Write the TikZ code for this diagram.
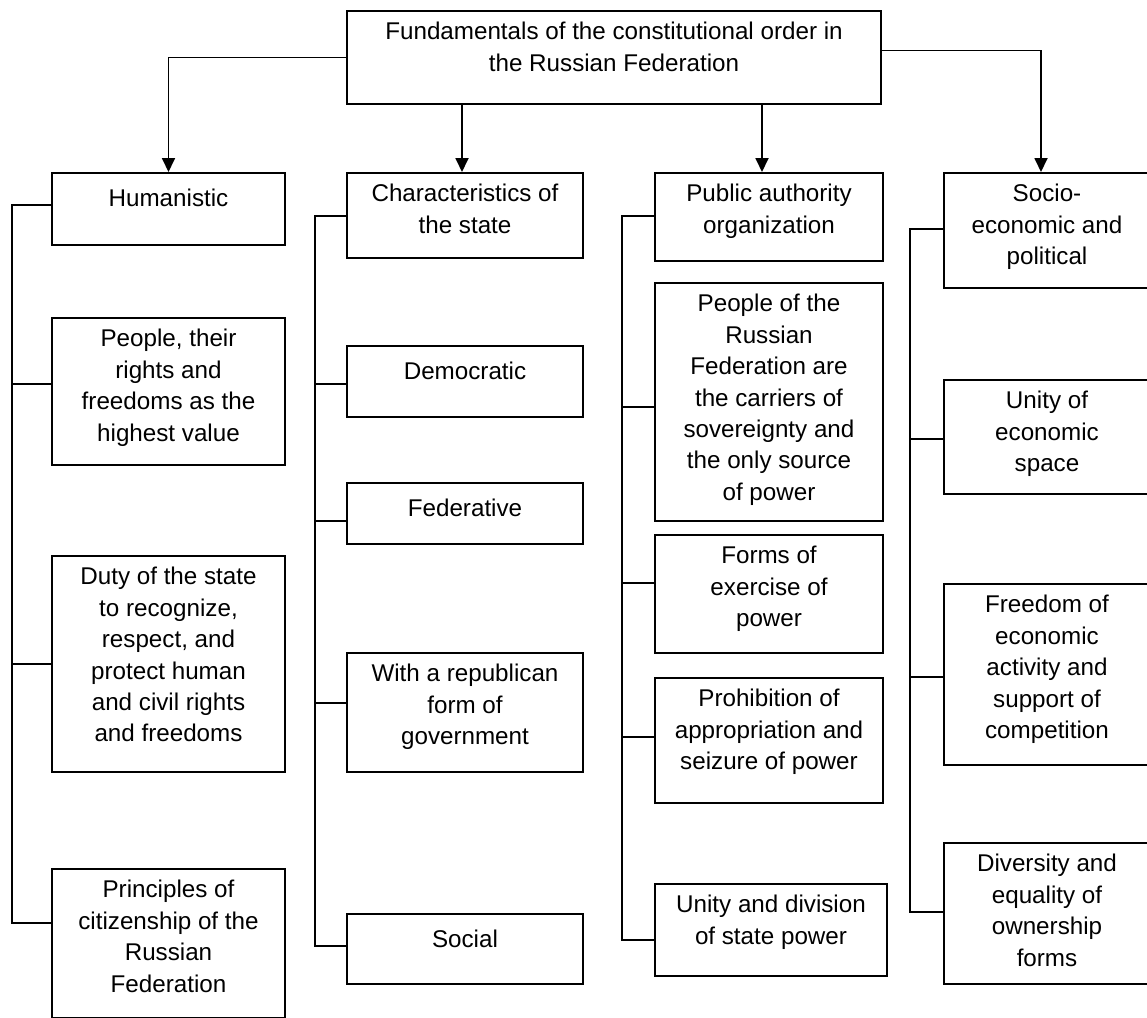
\documentclass[tikz,border=0pt]{standalone}
\usepackage{fontspec}
\setmainfont{Liberation Sans}
\usetikzlibrary{arrows.meta}
\tikzset{box/.style = {draw, line width = 0.9pt, anchor = north, inner sep = 0}}
\tikzset{txt/.style = {anchor = north, align = center, inner sep = 0, yshift = -6pt, font = \fontsize{12.1}{15.7}\selectfont, execute at begin node = \strut}}
\tikzset{link/.style = {line width = 0.9pt}}
\tikzset{arr/.style = {line width = 0.9pt, -{Triangle[width = 6.5pt, length = 7pt]}}}
\tikzset{col1/.style = {minimum width = 116.5pt}}
\tikzset{col2/.style = {minimum width = 118pt}}
\tikzset{col3/.style = {minimum width = 114pt}}
\tikzset{col4/.style = {minimum width = 103pt}}

\begin{document}
\begin{tikzpicture}[x = 0.5pt, y = -0.5pt]
    \useasboundingbox (0, 0) rectangle (1147, 1018);

    % root
    \node [box, minimum width = 267pt, minimum height = 46.5pt] (top) at (614, 10) {};
    \node [txt] (top-t) at (top.north) {Fundamentals of the constitutional order in\\the Russian Federation};

    % first column
    \node [box, col1, minimum height = 36pt] (hum) at (168.5, 172) {};
    \node [txt] (hum-t) at (hum.north) {Humanistic};
    \node [box, col1, minimum height = 73.5pt] (c1b) at (168.5, 317) {};
    \node [txt] (c1b-t) at (c1b.north) {People, their\\rights and\\freedoms as the\\highest value};
    \node [box, col1, minimum height = 108pt] (c1c) at (168.5, 555) {};
    \node [txt] (c1c-t) at (c1c.north) {Duty of the state\\to recognize,\\respect, and\\protect human\\and civil rights\\and freedoms};
    \node [box, col1, minimum height = 74.5pt] (c1d) at (168.5, 868) {};
    \node [txt] (c1d-t) at (c1d.north) {Principles of\\citizenship of the\\Russian\\Federation};

    % second column
    \node [box, col2, minimum height = 42.5pt] (c2a) at (465, 172) {};
    \node [txt] (c2a-t) at (c2a.north) {Characteristics of\\the state};
    \node [box, col2, minimum height = 35.5pt] (dem) at (465, 345) {};
    \node [txt] (dem-t) at (dem.north) {Democratic};
    \node [box, col2, minimum height = 30.5pt] (fed) at (465, 482) {};
    \node [txt] (fed-t) at (fed.north) {Federative};
    \node [box, col2, minimum height = 59.5pt] (rep) at (465, 652) {};
    \node [txt] (rep-t) at (rep.north) {With a republican\\form of\\government};
    \node [box, col2, minimum height = 35pt] (soc) at (465, 913) {};
    \node [txt] (soc-t) at (soc.north) {Social};

    % third column
    \node [box, col3, minimum height = 44pt] (c3a) at (769, 172) {};
    \node [txt] (c3a-t) at (c3a.north) {Public authority\\organization};
    \node [box, col3, minimum height = 119pt] (c3b) at (769, 282) {};
    \node [txt] (c3b-t) at (c3b.north) {People of the\\Russian\\Federation are\\the carriers of\\sovereignty and\\the only source\\of power};
    \node [box, col3, minimum height = 59pt] (c3c) at (769, 534) {};
    \node [txt] (c3c-t) at (c3c.north) {Forms of\\exercise of\\power};
    \node [box, col3, minimum height = 62.5pt] (c3d) at (769, 677) {};
    \node [txt] (c3d-t) at (c3d.north) {Prohibition of\\appropriation and\\seizure of power};
    \node [box, minimum width = 116pt, minimum height = 46pt] (c3e) at (771, 883) {};
    \node [txt] (c3e-t) at (c3e.north) {Unity and division\\of state power};

    % fourth column
    \node [box, col4, minimum height = 57.5pt] (c4a) at (1047, 172) {};
    \node [txt] (c4a-t) at (c4a.north) {Socio-\\economic and\\political};
    \node [box, col4, minimum height = 57pt] (c4b) at (1047, 379) {};
    \node [txt] (c4b-t) at (c4b.north) {Unity of\\economic\\space};
    \node [box, col4, minimum height = 90.5pt] (c4c) at (1047, 583) {};
    \node [txt] (c4c-t) at (c4c.north) {Freedom of\\economic\\activity and\\support of\\competition};
    \node [box, col4, minimum height = 70.5pt] (c4d) at (1047, 842) {};
    \node [txt] (c4d-t) at (c4d.north) {Diversity and\\equality of\\ownership\\forms};

    % arrows from the root
    \draw [arr] (top.west) -| (hum.north);
    \draw [arr] ([xshift = -1.5pt]c2a.north |- top.south) -- ([xshift = -1.5pt]c2a.north);
    \draw [arr] ([xshift = -3.5pt]c3a.north |- top.south) -- ([xshift = -3.5pt]c3a.north);
    \draw [arr] ([yshift = 3.5pt]top.east) -| ([xshift = -3pt]c4a.north);

    % spines
    \coordinate (s1) at (12, 0);
    \coordinate (s2) at (315, 0);
    \coordinate (s3) at (622, 0);
    \coordinate (s4) at (910, 0);

    \foreach \bx/\dy in {hum/33, c1b/67, c1c/109, c1d/55}
        \draw [link] (\bx.north west) ++(0, \dy) coordinate (j-\bx) -- (j-\bx -| s1);
    \draw [link] (j-hum) -- (j-hum -| s1) -- (j-c1d -| s1) -- (j-c1d);

    \foreach \bx/\dy in {c2a/44, dem/39, fed/39, rep/51, soc/33}
        \draw [link] (\bx.north west) ++(0, \dy) coordinate (j-\bx) -- (j-\bx -| s2);
    \draw [link] (j-c2a) -- (j-c2a -| s2) -- (j-soc -| s2) -- (j-soc);

    \foreach \bx/\dy in {c3a/44, c3b/125, c3c/49, c3d/60, c3e/57}
        \draw [link] (\bx.north west) ++(0, \dy) coordinate (j-\bx) -- (j-\bx -| s3);
    \draw [link] (j-c3a) -- (j-c3a -| s3) -- (j-c3e -| s3) -- (j-c3e);

    \foreach \bx/\dy in {c4a/57, c4b/60, c4c/94, c4d/70}
        \draw [link] (\bx.north west) ++(0, \dy) coordinate (j-\bx) -- (j-\bx -| s4);
    \draw [link] (j-c4a) -- (j-c4a -| s4) -- (j-c4d -| s4) -- (j-c4d);
\end{tikzpicture}
\end{document}
